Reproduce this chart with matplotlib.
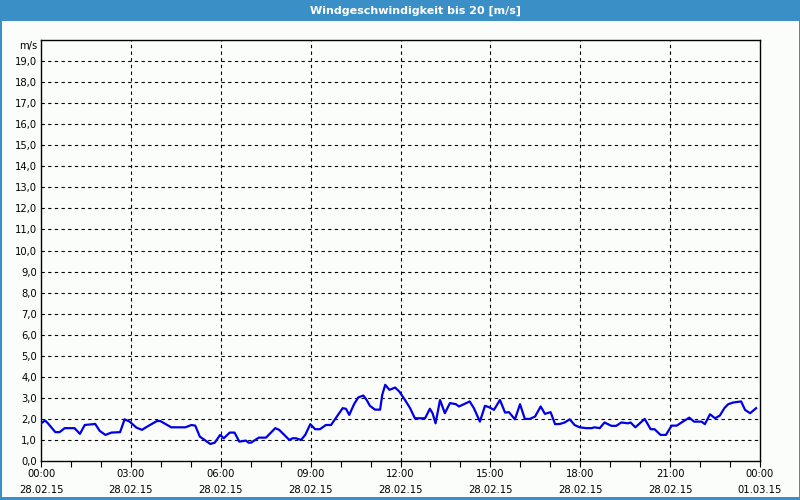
import matplotlib
matplotlib.use("Agg")
import matplotlib.pyplot as plt
from matplotlib.patches import Rectangle

# time in hours since 28.02.15 00:00, wind speed in m/s
hours = [0.00, 0.14, 0.23, 0.48, 0.62, 0.79, 1.12, 1.30, 1.46, 1.81, 1.96, 2.15, 2.35, 2.64,
         2.79, 2.96, 3.18, 3.37, 3.54, 3.87, 3.98, 4.21, 4.35, 4.82, 5.02, 5.15, 5.30, 5.48,
         5.65, 5.80, 5.98, 6.10, 6.30, 6.46, 6.62, 6.84, 6.93, 7.01, 7.27, 7.51, 7.82, 7.95,
         8.29, 8.40, 8.51, 8.68, 8.82, 8.99, 9.15, 9.31, 9.51, 9.68, 9.85, 10.07, 10.18, 10.29,
         10.45, 10.59, 10.76, 10.87, 10.98, 11.15, 11.32, 11.39, 11.49, 11.63, 11.82, 11.96,
         12.15, 12.32, 12.48, 12.82, 12.98, 13.07, 13.17, 13.32, 13.48, 13.65, 13.85, 13.95,
         14.12, 14.31, 14.45, 14.65, 14.82, 14.95, 15.12, 15.32, 15.49, 15.62, 15.82, 15.99,
         16.15, 16.32, 16.49, 16.68, 16.82, 17.01, 17.16, 17.32, 17.48, 17.65, 17.81, 17.98,
         18.20, 18.37, 18.48, 18.65, 18.81, 19.04, 19.20, 19.37, 19.59, 19.68, 19.84, 20.15,
         20.35, 20.48, 20.68, 20.86, 21.05, 21.22, 21.38, 21.64, 21.80, 22.05, 22.16, 22.33,
         22.50, 22.66, 22.81, 22.94, 23.11, 23.37, 23.50, 23.67, 23.87]
speed = [1.79, 1.92, 1.79, 1.37, 1.37, 1.56, 1.56, 1.29, 1.71, 1.76, 1.43, 1.24, 1.35, 1.37,
         1.98, 1.87, 1.59, 1.48, 1.63, 1.90, 1.90, 1.71, 1.60, 1.60, 1.71, 1.68, 1.16, 0.98,
         0.81, 0.87, 1.24, 1.08, 1.35, 1.35, 0.92, 0.97, 0.87, 0.87, 1.11, 1.11, 1.56, 1.48,
         1.00, 1.08, 1.08, 1.00, 1.24, 1.75, 1.51, 1.51, 1.71, 1.71, 2.06, 2.51, 2.48, 2.19,
         2.70, 3.02, 3.11, 2.90, 2.62, 2.44, 2.44, 3.14, 3.62, 3.38, 3.49, 3.30,
         2.90, 2.51, 2.03, 2.03, 2.48, 2.27, 1.79, 2.90, 2.27, 2.75, 2.70, 2.59,
         2.70, 2.83, 2.51, 1.87, 2.62, 2.56, 2.43, 2.90, 2.30, 2.32, 1.98, 2.70,
         2.00, 2.00, 2.11, 2.59, 2.24, 2.32, 1.75, 1.76, 1.83, 1.98, 1.71, 1.60,
         1.56, 1.56, 1.60, 1.56, 1.83, 1.67, 1.67, 1.83, 1.79, 1.83, 1.60, 2.00,
         1.51, 1.51, 1.24, 1.24, 1.68, 1.68, 1.83, 2.06, 1.87, 1.87, 1.75, 2.22,
         2.03, 2.16, 2.51, 2.70, 2.78, 2.83, 2.43, 2.27, 2.51]

major_hours = [0, 3, 6, 9, 12, 15, 18, 21, 24]
major_labels = ["00:00\n28.02.15", "03:00\n28.02.15", "06:00\n28.02.15", "09:00\n28.02.15",
                "12:00\n28.02.15", "15:00\n28.02.15", "18:00\n28.02.15", "21:00\n28.02.15",
                "00:00\n01.03.15"]
y_ticks = list(range(0, 20))
y_labels = [f"{v},0" for v in y_ticks]
title = "Windgeschwindigkeit bis 20 [m/s]"

bg = "#fbfdfb"
blue_bar = "#3b8fc7"

fig = plt.figure(figsize=(8, 5), dpi=100, facecolor=bg)
fig.patches.append(Rectangle((0, 1 - 21 / 500), 1, 21 / 500, transform=fig.transFigure,
                             facecolor=blue_bar, edgecolor="none", zorder=0))
# border
for rect in [(0, 0, 1.5 / 800, 1), (1 - 1.5 / 800, 0, 1.5 / 800, 1), (0, 0, 1, 3 / 500)]:
    fig.patches.append(Rectangle(rect[:2], rect[2], rect[3], transform=fig.transFigure,
                                 facecolor=blue_bar, edgecolor="none", zorder=0))
fig.text(415 / 800, 1 - 11 / 500, title, color="white", fontsize=8, fontweight="bold",
         ha="center", va="center", family="DejaVu Sans")

ax = fig.add_axes([41 / 800, 1 - 461 / 500, 719 / 800, 421 / 500])
ax.set_facecolor(bg)
ax.plot(hours, speed, color="#0000e6", linewidth=1.6, zorder=3)

ax.set_xlim(0, 24)
ax.set_ylim(0, 20)
ax.set_xticks(major_hours)
ax.set_xticklabels(major_labels, fontsize=7.2, linespacing=1.75)
ax.set_xticks(range(0, 25), minor=True)
ax.set_yticks(y_ticks)
ax.set_yticklabels(y_labels, fontsize=7.2)
ax.tick_params(axis="x", which="both", direction="out", length=4, width=0.8, pad=2)
ax.tick_params(axis="y", length=0, pad=3)

for h in major_hours[1:-1]:
    ax.axvline(h, color="black", linewidth=0.8, linestyle=(0, (3, 3)), zorder=1)
for v in range(1, 20):
    ax.axhline(v, color="black", linewidth=0.8, linestyle=(0, (3, 3)), zorder=1)

for s in ax.spines.values():
    s.set_linewidth(1.0)
    s.set_color("black")

fig.text(37 / 800, 1 - 46 / 500, "m/s", fontsize=7.2, ha="right", va="center")

fig.savefig("out.png", dpi=100, facecolor=bg)
